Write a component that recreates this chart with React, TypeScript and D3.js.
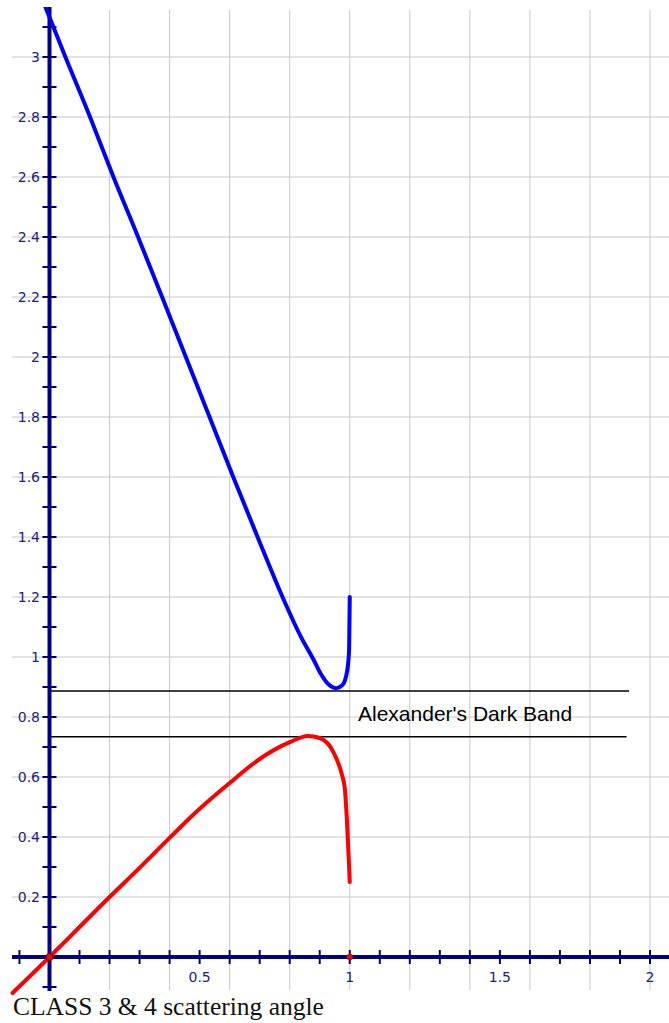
import React from "react";
import * as d3 from "d3";

// scattering angle curves
const blueX = [-0.015, 0.053, 0.135, 0.213, 0.295, 0.375, 0.454, 0.533, 0.612, 0.693, 0.776, 0.837, 0.88, 0.903, 0.93, 0.953, 0.976, 0.992, 0.998, 1.0];
const blueY = [3.17, 3.0, 2.8, 2.6, 2.4, 2.2, 2.0, 1.8, 1.6, 1.4, 1.2, 1.068, 0.99, 0.945, 0.908, 0.896, 0.907, 0.957, 1.03, 1.2];

const redX = [-0.123, 0, 0.1, 0.2, 0.3, 0.4, 0.5, 0.6, 0.7, 0.8, 0.86, 0.9, 0.947, 0.976, 0.983, 1.0];
const redY = [-0.12, 0, 0.1, 0.2, 0.297, 0.397, 0.494, 0.58, 0.66, 0.716, 0.737, 0.73, 0.68, 0.6, 0.567, 0.25];

// dark band boundaries
const bandY = [0.887, 0.734];
const bandEndX = [1.93, 1.922];

const xLabels = [0.5, 1, 1.5, 2];
const yLabels = [0.2, 0.4, 0.6, 0.8, 1, 1.2, 1.4, 1.6, 1.8, 2, 2.2, 2.4, 2.6, 2.8, 3];
const xGrid = [0.2, 0.4, 0.6, 0.8, 1, 1.2, 1.4, 1.6, 1.8, 2];
const yGrid = yLabels;
const xTicks = d3.range(-1, 21).map((i) => i / 10);
const yTicks = d3.range(-1, 32).map((i) => i / 10);

const W = 669;
const H = 1023;
const NAVY = "#000080";

export default function App() {
  const x = d3.scaleLinear().domain([0, 2]).range([49.5, 650]);
  const y = d3.scaleLinear().domain([0, 1]).range([957, 657]);

  const line = d3
    .line<[number, number]>()
    .x((d) => x(d[0]))
    .y((d) => y(d[1]))
    .curve(d3.curveMonotoneX);

  const blue = blueX.map((v, i) => [v, blueY[i]] as [number, number]);
  const red = redX.map((v, i) => [v, redY[i]] as [number, number]);

  return (
    <svg
      width={W}
      height={H}
      style={{ position: "absolute", left: 0, top: 0, background: "#fff" }}
    >
      <defs>
        <clipPath id="plot">
          <rect x={0} y={7} width={W} height={990} />
        </clipPath>
      </defs>

      {/* grid */}
      <g stroke="#c8c8c8" strokeWidth={1}>
        {yGrid.map((v) => (
          <line key={"h" + v} x1={12} x2={W} y1={y(v)} y2={y(v)} />
        ))}
        {xGrid.map((v) => (
          <line key={"v" + v} x1={x(v)} x2={x(v)} y1={10} y2={990} />
        ))}
      </g>

      {/* dark band */}
      <g stroke="#000" strokeWidth={1.5}>
        {bandY.map((v, i) => (
          <line key={v} x1={x(0)} x2={x(bandEndX[i])} y1={y(v)} y2={y(v)} />
        ))}
      </g>
      <text
        x={358}
        y={721}
        fontFamily="Liberation Sans, Arial, sans-serif"
        fontSize={21}
        fill="#000"
      >
        Alexander's Dark Band
      </text>

      {/* axes */}
      <g stroke={NAVY}>
        <line x1={12} x2={W} y1={y(0)} y2={y(0)} strokeWidth={4} />
        <line x1={x(0)} x2={x(0)} y1={7} y2={991} strokeWidth={4} />
        {xTicks.map((v) => (
          <line key={"xt" + v} x1={x(v)} x2={x(v)} y1={y(0) - 7} y2={y(0) + 7} strokeWidth={2} />
        ))}
        {yTicks.map((v) => (
          <line key={"yt" + v} x1={x(0) - 7} x2={x(0) + 7} y1={y(v)} y2={y(v)} strokeWidth={2} />
        ))}
      </g>
      <g fontFamily="DejaVu Sans, Verdana, sans-serif" fontSize={14} fill="#1c1c8a">
        {yLabels.map((v) => (
          <text key={"yl" + v} x={40} y={y(v)} dy="0.36em" textAnchor="end">
            {String(+v.toFixed(1))}
          </text>
        ))}
        {xLabels.map((v) => (
          <text key={"xl" + v} x={x(v)} y={982} textAnchor="middle">
            {String(v)}
          </text>
        ))}
      </g>

      {/* curves */}
      <g clipPath="url(#plot)" fill="none" strokeWidth={4} strokeLinejoin="round" strokeLinecap="round">
        <path d={line(blue) || ""} stroke="#0000ff" />
        <path d={line(red) || ""} stroke="#ff0000" />
      </g>
      <circle cx={x(0)} cy={y(0)} r={3.5} fill="#ff0000" stroke="#600" strokeWidth={1} />
      <circle cx={x(1)} cy={y(0)} r={3} fill="#ff0000" stroke="#800" strokeWidth={0.5} />

      <text
        x={13}
        y={1015}
        fontFamily="Liberation Serif, Times New Roman, serif"
        fontSize={25.5}
        fill="#111"
      >
        CLASS 3 &amp; 4 scattering angle
      </text>
    </svg>
  );
}
